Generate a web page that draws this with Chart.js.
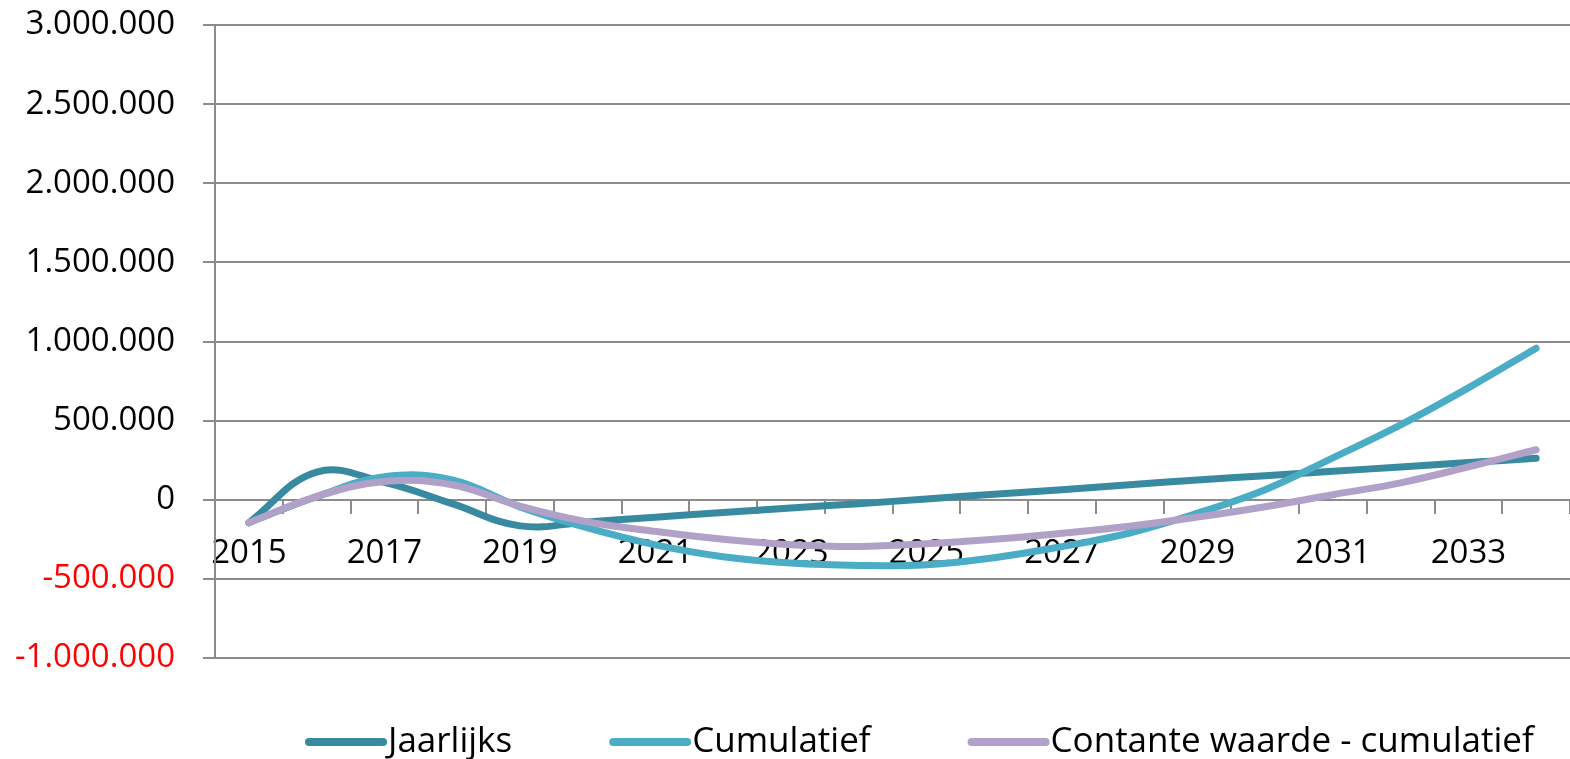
<!DOCTYPE html>
<html>
<head>
<meta charset="utf-8">
<script src="https://cdn.jsdelivr.net/npm/chart.js@4/dist/chart.umd.min.js"></script>
<style>
  html, body { margin: 0; padding: 0; background: #fff; }
  canvas { display: block; }
</style>
</head>
<body>
<canvas id="myChart" width="1570" height="759"></canvas>
<script>
// years on the x axis
const years = [2015, 2016, 2017, 2018, 2019, 2020, 2021, 2022, 2023, 2024,
  2025, 2026, 2027, 2028, 2029, 2030, 2031, 2032, 2033, 2034];

// euro amounts per year
const jaarlijks = [-145000, 175000, 110000, -25000, -165000, -140000, -110000, -80000, -52000, -25000,
  5000, 35000, 63000, 95000, 125000, 152000, 180000, 207000, 235000, 262000];
const cumulatief = [-145000, 20000, 145000, 125000, -45000, -178000, -285000, -360000, -400000, -415000,
  -410000, -366000, -296000, -210000, -85000, 63000, 265000, 473000, 707000, 958000];
const contanteWaarde = [-145000, 20000, 115000, 95000, -40000, -140000, -200000, -250000, -284000, -295000,
  -278000, -250000, -212000, -168000, -110000, -44000, 32000, 107000, 208000, 316000];

// y axis range
const yMin = -1000000;
const yMax = 3000000;
const yStep = 500000;

const FONT = "'Open Sans', sans-serif";
const GRID = "#8c8c8c";

function formatNL(v) {
  const s = Math.abs(v).toString().replace(/\B(?=(\d{3})+(?!\d))/g, ".");
  return (v < 0 ? "-" : "") + s;
}

// legend drawn by hand so the line symbols sit right against the text
const lineLegend = {
  id: "lineLegend",
  afterDraw(chart) {
    const ctx = chart.ctx;
    let x = 305;
    const y = 742;
    ctx.save();
    ctx.font = "35px " + FONT;
    ctx.textBaseline = "middle";
    chart.data.datasets.forEach((ds) => {
      ctx.strokeStyle = ds.borderColor;
      ctx.lineWidth = 8;
      ctx.lineCap = "round";
      ctx.beginPath();
      ctx.moveTo(x + 4, y);
      ctx.lineTo(x + 78, y);
      ctx.stroke();
      ctx.fillStyle = "#000";
      ctx.fillText(ds.label, x + 83, y);
      x += 83 + ctx.measureText(ds.label).width + 97;
    });
    ctx.restore();
  },
};

const ctx = document.getElementById("myChart");
const myChart = new Chart(ctx, {
  type: "line",
  data: {
    labels: years.map(String),
    datasets: [
      {
        label: "Jaarlijks",
        data: jaarlijks,
        borderColor: "#378a9f",
        order: 3,
      },
      {
        label: "Cumulatief",
        data: cumulatief,
        borderColor: "#4bacc6",
        order: 2,
      },
      {
        label: "Contante waarde - cumulatief",
        data: contanteWaarde,
        borderColor: "#b1a0c8",
        order: 1,
      },
    ],
  },
  options: {
    responsive: false,
    animation: false,
    datasets: {
      line: {
        borderWidth: 7,
        tension: 0.4,
        pointRadius: 0,
        fill: false,
        borderCapStyle: "round",
      },
    },
    layout: {
      padding: { left: 0, top: 25, right: 0, bottom: 101 },
    },
    plugins: {
      legend: { display: false },
      tooltip: { enabled: false },
    },
    scales: {
      x: {
        position: { y: 0 },
        offset: true,
        afterFit: (s) => {
          s.paddingLeft = 0;
          s.paddingRight = 0;
        },
        grid: {
          offset: true,
          drawOnChartArea: false,
          drawTicks: true,
          tickLength: 13,
          color: GRID,
          lineWidth: 2,
        },
        border: { color: GRID, width: 2 },
        ticks: {
          autoSkip: false,
          maxRotation: 0,
          padding: 21,
          color: "#000",
          font: { family: FONT, size: 33 },
          callback: (val, i) => (i % 2 === 0 ? years[i] : ""),
        },
      },
      y: {
        min: yMin,
        max: yMax,
        afterFit: (s) => {
          s.width = 215;
          s.paddingTop = 0;
          s.paddingBottom = 0;
        },
        grid: {
          color: GRID,
          lineWidth: 2,
          tickLength: 12,
        },
        border: { color: GRID, width: 2 },
        ticks: {
          stepSize: yStep,
          padding: 28,
          font: { family: FONT, size: 33 },
          color: (c) => (c.tick.value < 0 ? "#ff0000" : "#000"),
          callback: (v) => formatNL(v),
        },
      },
    },
  },
  plugins: [lineLegend],
});
</script>
</body>
</html>
